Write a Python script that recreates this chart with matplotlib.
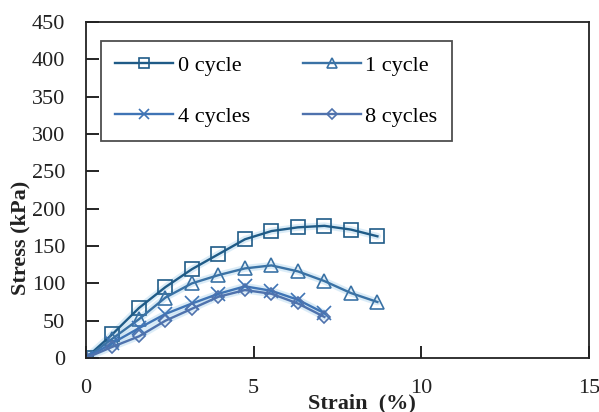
import matplotlib
matplotlib.use("Agg")
import matplotlib.pyplot as plt

strain = [0, 0.79, 1.58, 2.37, 3.16, 3.95, 4.74, 5.53, 6.32, 7.11, 7.90, 8.69]
stress_0 = [0, 32, 67, 95, 119, 139, 159, 170, 175, 177, 172, 163]
stress_1 = [0, 26, 52, 81, 100, 111, 120, 124, 116, 103, 87, 75]
strain_short = [0, 0.79, 1.58, 2.37, 3.16, 3.95, 4.74, 5.53, 6.32, 7.11]
stress_4 = [0, 20, 40, 59, 73, 86, 96, 90, 78, 60]
stress_8 = [0, 15, 29, 50, 66, 82, 91, 86, 73, 55]

labels = ["0 cycle", "1 cycle", "4 cycles", "8 cycles"]
colors = ["#1f5b87", "#3a72a5", "#3f74b5", "#4f72ad"]
markers = ["s", "^", "x", "D"]
msizes = [9.5, 9.5, 10, 6.5]

plt.rcParams["font.family"] = ["Liberation Serif", "DejaVu Serif"]
fig = plt.figure(figsize=(5.99, 4.12), dpi=100)
ax = fig.add_axes([86/599, 1-358/412, (589-86)/599, (358-22)/412])

series = [(strain, stress_0), (strain, stress_1), (strain_short, stress_4), (strain_short, stress_8)]
handles = []
for (xs, ys), lab, c, m, ms in zip(series, labels, colors, markers, msizes):
    ax.plot(xs, ys, color="#c4e0f3", lw=5, alpha=0.6, solid_capstyle="round", zorder=1)
for (xs, ys), lab, c, m, ms in zip(series, labels, colors, markers, msizes):
    h, = ax.plot(xs, ys, color=c, lw=1.7, marker=m, markersize=ms,
                 markerfacecolor="none", markeredgecolor=c, markeredgewidth=1.2,
                 label=lab, zorder=2)
    handles.append(h)

ax.set_xlim(0, 15)
ax.set_ylim(0, 450)
ax.set_xticks([0, 5, 10, 15])
ax.set_yticks(range(0, 451, 50))
ax.tick_params(axis="both", direction="in", length=9, width=1.2, labelsize=16,
               top=False, right=False, labelcolor="#222222")
ax.tick_params(axis="y", pad=15)
ax.tick_params(axis="x", pad=15)
for s in ax.spines.values():
    s.set_linewidth(1.3)
    s.set_color("#222222")

order = [0, 2, 1, 3]
leg = ax.legend([handles[i] for i in order], [labels[i] for i in order],
                ncol=2, loc="upper left", bbox_to_anchor=(101/599, 1-41/412),
                bbox_transform=fig.transFigure, fontsize=16, frameon=True,
                fancybox=False, edgecolor="#222222", handlelength=2.6,
                handletextpad=0.2, columnspacing=2.4, labelspacing=1.35,
                borderpad=0.65, borderaxespad=0, markerscale=0.75)
leg.get_frame().set_linewidth(1.3)

fig.text(362/599, 1-403/412, "Strain  (%)", ha="center", va="center",
         fontsize=16, fontweight="bold", color="#222222")
fig.text(20/599, 1-238/412, "Stress (kPa)", ha="center", va="center",
         fontsize=16, fontweight="bold", rotation=90, color="#222222")

fig.savefig("out.png", dpi=100)
